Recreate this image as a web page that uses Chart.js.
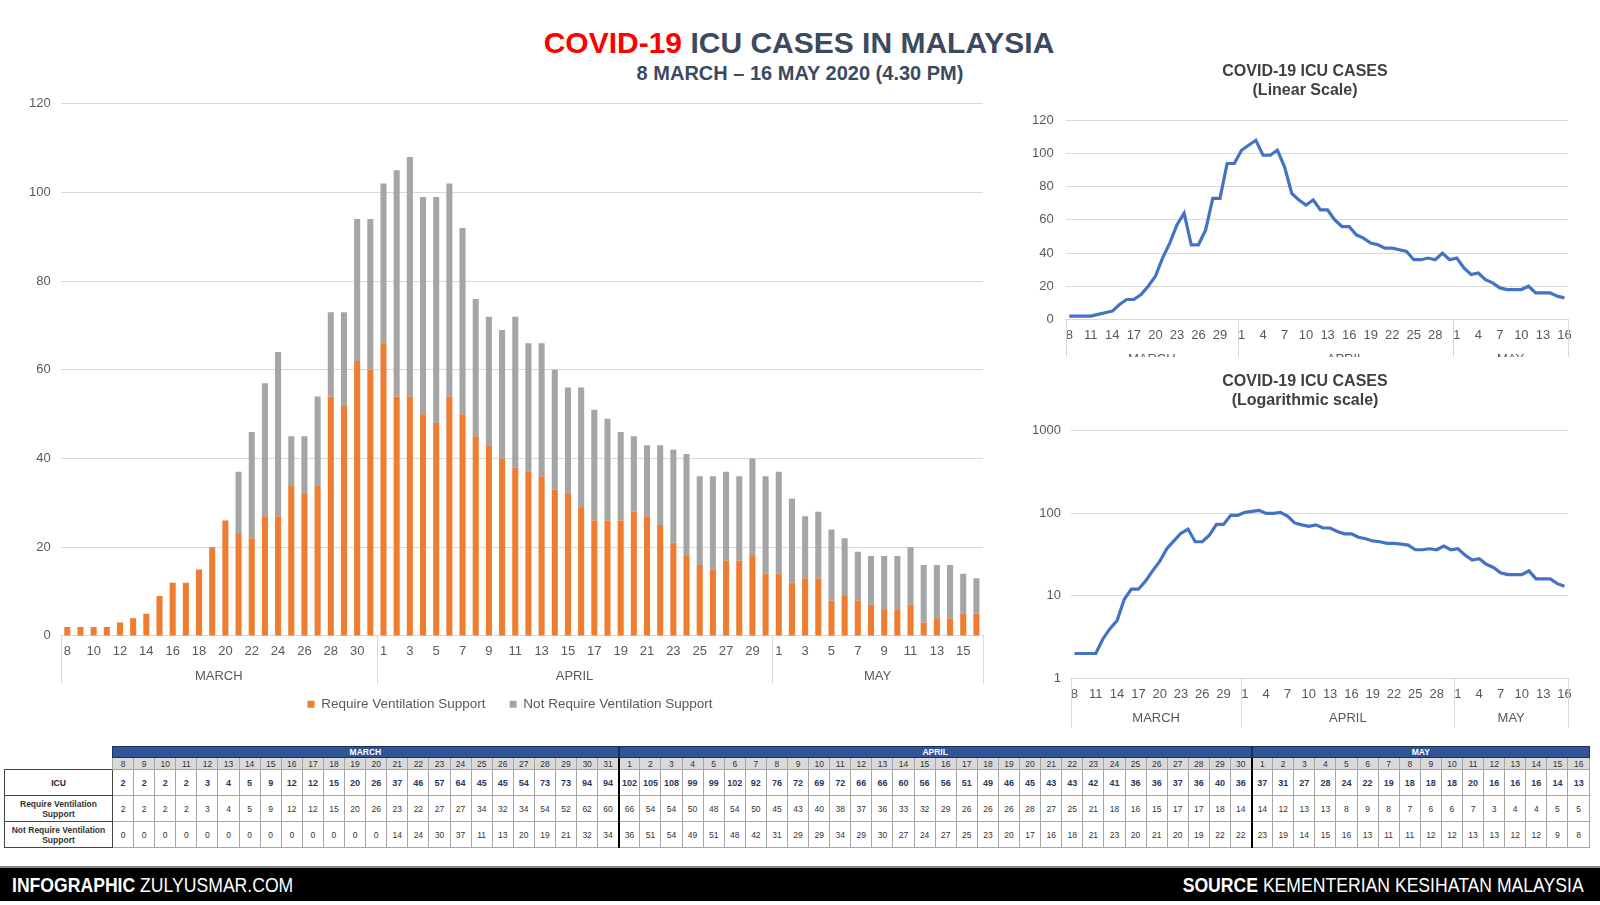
<!DOCTYPE html>
<html lang="en">
<head>
    <meta charset="UTF-8">
    <title>COVID-19 ICU Cases in Malaysia</title>
    <script src="https://cdn.jsdelivr.net/npm/chart.js"></script>
    <style>
        body { margin: 0; width: 1600px; height: 905px; background: #fff; position: relative; overflow: hidden;
               font-family: "Liberation Sans", Arial, sans-serif; }
        .box { position: absolute; }
        #title { left: 449px; width: 700px; top: 26px; text-align: center; font-weight: bold; font-size: 30px; color: #3b4a5e; }
        #title span { color: #ff0000; }
        #subtitle { left: 500px; width: 600px; top: 62px; text-align: center; font-weight: bold; font-size: 20px; color: #3b4a5e; }
        #tbl { left: 4px; top: 746px; width: 1586px; border-collapse: collapse; table-layout: fixed; font-size: 8.5px; }
        #tbl td { text-align: center; padding: 0; border: 1px solid #a6a6a6; overflow: hidden; white-space: nowrap; }
        #tbl td.lbl { white-space: normal; font-weight: bold; color: #222; line-height: 10px; border-color: #444; }
        #tbl td.blank { border: none; }
        #tbl tr.mon td.m { background: #2f5597; color: #fff; font-weight: bold; height: 10px; border-color: #1c2f55; }
        #tbl tr.day td.d { background: #d9d9d9; color: #333; height: 11px; }
        #tbl tr.icu td { height: 25px; }
        #tbl tr.icu td.v { font-weight: bold; color: #1f3864; font-size: 9px; }
        #tbl tr.r td { height: 25px; color: #333; }
        #tbl td.sep { border-left: 2px solid #000; }
        #footer { left: 0; top: 866px; width: 1600px; height: 35px; background: #000; color: #fff;
                  font-family: "Liberation Sans", Arial, sans-serif; font-size: 20px;
                  border-top: 2px solid #888; box-sizing: border-box; }
        #footer .l { position: absolute; left: 12px; top: 6px; transform: scaleX(0.88); transform-origin: left center; }
        #footer .r { position: absolute; right: 16px; top: 6px; transform: scaleX(0.88); transform-origin: right center; }
    </style>
</head>
<body>

    <div id="title" class="box"><span>COVID-19</span> ICU CASES IN MALAYSIA</div>
    <div id="subtitle" class="box">8 MARCH – 16 MAY 2020 (4.30 PM)</div>

    <!-- grafico principal (barras empilhadas) -->
    <div class="box" style="left:0; top:86px; width:1000px; height:635px;"><canvas id="mainChart"></canvas></div>
    <!-- graficos da direita -->
    <div class="box" style="left:1010px; top:58px; width:590px; height:299px;"><canvas id="linChart"></canvas></div>
    <div class="box" style="left:1010px; top:368px; width:590px; height:367px;"><canvas id="logChart"></canvas></div>

    <table id="tbl" class="box"></table>

    <div id="footer" class="box">
        <div class="l"><b>INFOGRAPHIC</b> ZULYUSMAR.COM</div>
        <div class="r"><b>SOURCE</b> KEMENTERIAN KESIHATAN MALAYSIA</div>
    </div>

    <script>
        // dias (8 Mar - 16 Mai)
        const dayLabels = [
            '8','9','10','11','12','13','14','15','16','17','18','19','20','21','22','23','24','25','26','27','28','29','30','31',
            '1','2','3','4','5','6','7','8','9','10','11','12','13','14','15','16','17','18','19','20','21','22','23','24','25','26','27','28','29','30',
            '1','2','3','4','5','6','7','8','9','10','11','12','13','14','15','16'
        ];
        const months = ['MARCH', 'APRIL', 'MAY'];
        const monthLengths = [24, 30, 16];

        const icuTotal = [
            2,2,2,2,3,4,5,9,12,12,15,20,26,37,46,57,64,45,45,54,73,73,94,94,
            102,105,108,99,99,102,92,76,72,69,72,66,66,60,56,56,51,49,46,45,43,43,42,41,36,36,37,36,40,36,
            37,31,27,28,24,22,19,18,18,18,20,16,16,16,14,13
        ];
        const requireVent = [
            2,2,2,2,3,4,5,9,12,12,15,20,26,23,22,27,27,34,32,34,54,52,62,60,
            66,54,54,50,48,54,50,45,43,40,38,37,36,33,32,29,26,26,26,28,27,25,21,18,16,15,17,17,18,14,
            14,12,13,13,8,9,8,7,6,6,7,3,4,4,5,5
        ];
        const notRequireVent = [
            0,0,0,0,0,0,0,0,0,0,0,0,0,14,24,30,37,11,13,20,19,21,32,34,
            36,51,54,49,51,48,42,31,29,29,34,29,30,27,24,27,25,23,20,17,16,18,21,23,20,21,20,19,22,22,
            23,19,14,15,16,13,11,11,12,12,13,13,12,12,9,8
        ];

        const linTicks = [0, 20, 40, 60, 80, 100, 120];
        const logTicks = [1, 10, 100, 1000];

        Chart.defaults.font.family = '"Liberation Sans", Arial, sans-serif';
        Chart.defaults.color = '#595959';
        Chart.defaults.animation = false;

        // rotulos dos meses por baixo do eixo x + linhas separadoras
        const monthGroups = {
            id: 'monthGroups',
            afterDraw(chart, args, opts) {
                const x = chart.scales.x, ctx = chart.ctx;
                const edges = [x.left];
                let idx = 0;
                monthLengths.forEach((n, i) => {
                    idx += n;
                    if (i < monthLengths.length - 1) {
                        edges.push((x.getPixelForValue(idx - 1) + x.getPixelForValue(idx)) / 2);
                    }
                });
                edges.push(x.right);
                ctx.save();
                ctx.strokeStyle = '#d9d9d9';
                ctx.lineWidth = 1;
                edges.forEach(e => {
                    ctx.beginPath();
                    ctx.moveTo(Math.round(e) + 0.5, x.top);
                    ctx.lineTo(Math.round(e) + 0.5, x.top + opts.lineLength);
                    ctx.stroke();
                });
                ctx.fillStyle = '#595959';
                ctx.font = opts.size + 'px "Liberation Sans", Arial, sans-serif';
                ctx.textAlign = 'center';
                ctx.textBaseline = 'middle';
                months.forEach((m, i) => {
                    ctx.fillText(m, (edges[i] + edges[i + 1]) / 2, x.top + opts.labelOffset);
                });
                ctx.restore();
            }
        };

        // desloca legenda / titulo na horizontal
        const boxShift = {
            id: 'boxShift',
            afterLayout(chart, args, opts) {
                [['legend', opts.legend], ['titleBlock', opts.title]].forEach(([k, dx]) => {
                    const b = chart[k];
                    if (b && dx) { b.left += dx; b.right += dx; }
                });
            }
        };

        // barras empilhadas
        new Chart(document.getElementById('mainChart'), {
            type: 'bar',
            plugins: [monthGroups, boxShift],
            data: {
                labels: dayLabels,
                datasets: [
                    { label: 'Require Ventilation Support', data: requireVent, backgroundColor: '#ed7d31' },
                    { label: 'Not Require Ventilation Support', data: notRequireVent, backgroundColor: '#a5a5a5' }
                ]
            },
            options: {
                responsive: true,
                maintainAspectRatio: false,
                layout: { padding: { top: 6, right: 17, left: 19 } },
                datasets: { bar: { barPercentage: 0.5, categoryPercentage: 0.92 } },
                scales: {
                    x: {
                        stacked: true,
                        grid: { display: false },
                        border: { color: '#d9d9d9' },
                        ticks: { autoSkip: false, maxRotation: 0, font: { size: 13 }, padding: 0,
                                 callback: (v, i) => i % 2 === 0 ? dayLabels[i] : '' },
                        afterFit: axis => { axis.height += 14; }
                    },
                    y: {
                        stacked: true,
                        min: 0, max: 120,
                        afterBuildTicks: axis => { axis.ticks = linTicks.map(v => ({ value: v })); },
                        grid: { color: '#d9d9d9', drawTicks: false },
                        border: { display: false },
                        ticks: { font: { size: 13 }, padding: 10 }
                    }
                },
                plugins: {
                    monthGroups: { lineLength: 48, labelOffset: 41, size: 13 },
                    boxShift: { legend: 9 },
                    tooltip: { enabled: false },
                    legend: {
                        position: 'bottom',
                        labels: { boxWidth: 7, boxHeight: 7, font: { size: 13.5 }, padding: 24 }
                    }
                }
            }
        });

        function lineChart(id, subtitle, padLeft, titleShift, yScale, monthOpts) {
            return new Chart(document.getElementById(id), {
                type: 'line',
                plugins: [monthGroups, boxShift],
                data: {
                    labels: dayLabels,
                    datasets: [{ data: icuTotal, borderColor: '#4472c4', borderWidth: 3.2, pointRadius: 0, tension: 0 }]
                },
                options: {
                    responsive: true,
                    maintainAspectRatio: false,
                    layout: { padding: { right: 32, left: padLeft } },
                    scales: {
                        x: {
                            offset: true,
                            grid: { display: false },
                            border: { color: '#d9d9d9' },
                            ticks: { autoSkip: false, maxRotation: 0, font: { size: 13 }, padding: 0,
                                     callback: (v, i) => i % 3 === 0 ? dayLabels[i] : '' },
                            afterFit: axis => { axis.height += monthOpts.extra; }
                        },
                        y: yScale
                    },
                    plugins: {
                        monthGroups: monthOpts,
                        boxShift: { title: titleShift },
                        tooltip: { enabled: false },
                        legend: { display: false },
                        title: {
                            display: true,
                            text: ['COVID-19 ICU CASES', subtitle],
                            color: '#404040',
                            font: { size: 16, weight: 'bold', lineHeight: 1.2 },
                            padding: { top: 4, bottom: 20 }
                        }
                    }
                }
            });
        }

        lineChart('linChart', '(Linear Scale)', 10, 11, {
            min: 0, max: 120,
            afterBuildTicks: axis => { axis.ticks = linTicks.map(v => ({ value: v })); },
            grid: { color: '#d9d9d9', drawTicks: false },
            border: { display: false },
            ticks: { font: { size: 13 }, padding: 12 }
        }, { lineLength: 40, labelOffset: 40, size: 13, extra: 14 });

        lineChart('logChart', '(Logarithmic scale)', 12, 10, {
            type: 'logarithmic',
            min: 1, max: 1000,
            afterBuildTicks: axis => { axis.ticks = logTicks.map(v => ({ value: v })); },
            grid: { color: '#d9d9d9', drawTicks: false },
            border: { display: false },
            ticks: { font: { size: 13 }, padding: 10, callback: v => String(v) }
        }, { lineLength: 49, labelOffset: 40, size: 13, extra: 33 });

        // tabela de dados
        const tbl = document.getElementById('tbl');
        const starts = [24, 54];
        let html = '<colgroup><col style="width:108px">' + dayLabels.map(() => '<col>').join('') + '</colgroup>';
        html += '<tr class="mon"><td class="blank"></td>' +
            months.map((m, i) => `<td class="m${i ? ' sep' : ''}" colspan="${monthLengths[i]}">${m}</td>`).join('') + '</tr>';
        const cells = (arr, cls) => arr.map((v, i) => `<td class="${cls}${starts.includes(i) ? ' sep' : ''}">${v}</td>`).join('');
        html += '<tr class="day"><td class="blank"></td>' + cells(dayLabels, 'd') + '</tr>';
        html += '<tr class="icu"><td class="lbl">ICU</td>' + cells(icuTotal, 'v') + '</tr>';
        html += '<tr class="r"><td class="lbl">Require Ventilation Support</td>' + cells(requireVent, 'n') + '</tr>';
        html += '<tr class="r"><td class="lbl">Not Require Ventilation Support</td>' + cells(notRequireVent, 'n') + '</tr>';
        tbl.innerHTML = html;
    </script>

</body>
</html>
